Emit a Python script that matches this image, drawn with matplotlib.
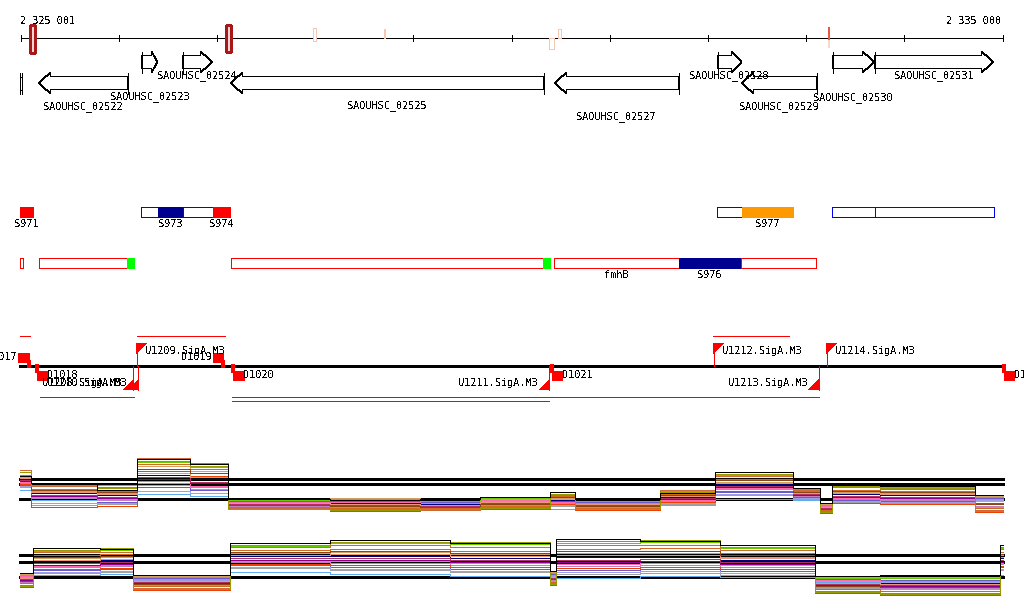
import matplotlib
matplotlib.use("Agg")
import matplotlib.pyplot as plt
from matplotlib.patches import Polygon, Rectangle

plt.rcParams["text.antialiased"] = False
plt.rcParams["lines.antialiased"] = False
plt.rcParams["patch.antialiased"] = False
plt.rcParams["font.family"] = "DejaVu Sans Mono"

# ---------------------------------------------------------------- data
WIN_START = 2325001
WIN_END = 2335000
TICK_POS = [2325001, 2326000, 2327000, 2328000, 2329000, 2330000,
            2331000, 2332000, 2333000, 2334000, 2335000]

# marks on the coordinate ruler
MARK_START = [2325093, 2327092, 2327978, 2328700, 2330384, 2330474, 2333221]
MARK_END = [2325150, 2327143, 2328008, 2328715, 2330428, 2330504, 2333241]
MARK_KIND = ["strong", "strong", "weak", "weak", "weak", "weak", "peak"]

# annotated genes
GENE_NAMES = ["", "SAOUHSC_02522", "SAOUHSC_02523", "SAOUHSC_02524",
              "SAOUHSC_02525", "SAOUHSC_02527", "SAOUHSC_02528",
              "SAOUHSC_02529", "SAOUHSC_02530", "SAOUHSC_02531"]
GENE_START = [2324994, 2325187, 2326229, 2326644, 2327142, 2330432,
              2332094, 2332341, 2333266, 2333693]
GENE_END = [2325014, 2326091, 2326399, 2326959, 2330320, 2331697,
            2332341, 2333107, 2333693, 2334905]
GENE_STRAND = ["-", "-", "+", "+", "-", "-", "+", "-", "+", "+"]

# segment tracks (upper: + strand, lower: - strand)
SEG1_START = [2324994, 2326229, 2326399, 2326651, 2326962,
              2332094, 2332343, 2333266, 2333700]
SEG1_END = [2325126, 2326399, 2326651, 2326962, 2327132,
            2332343, 2332865, 2333700, 2334909]
SEG1_KIND = ["srnaA", "utr", "srnaB", "utr", "srnaA",
             "utr", "srnaC", "utr", "utr"]
SEG1_LABEL = ["S971", "", "S973", "", "S974", "", "S977", "", ""]

SEG2_START = [2324994, 2325187, 2326087, 2327146, 2330320,
              2330435, 2331701, 2332336]
SEG2_END = [2325021, 2326087, 2326155, 2330320, 2330388,
            2331701, 2332336, 2333102]
SEG2_KIND = ["mrna", "mrna", "term", "mrna", "term",
             "mrna", "srnaB", "mrna"]
SEG2_LABEL = ["", "", "", "", "", "fmhB", "S976", ""]

# promoters / transcription start sites
PROM_NAMES = ["D1017", "D1018", "U1208.SigA.M3", "U1209.SigA.M3",
              "U1210.SigA.M3", "D1019", "D1020", "U1211.SigA.M3",
              "D1021", "U1212.SigA.M3", "U1213.SigA.M3",
              "U1214.SigA.M3", "D1022"]
PROM_POS = [2325082, 2325167, 2326148, 2326185, 2326199, 2327064,
            2327166, 2330384, 2330410, 2332054, 2333130, 2333208,
            2335009]
PROM_STRAND = ["+", "-", "-", "+", "-", "+", "-", "-", "-", "+", "-",
               "+", "-"]

# transcript spans
TX_START = [2324994, 2326185, 2332051, 2325198, 2327153, 2327153]
TX_END = [2325096, 2327081, 2332822, 2326155, 2333130, 2330384]
TX_STRAND = ["+", "+", "+", "-", "-", "-"]

# expression profiles (log2 signal), one row per condition
SERIES_COLORS = ["#000000", "#999900", "#cd6839", "#66cc00", "#8b4513",
                 "#e9967a", "#b03060", "#8b008b", "#000080", "#ff69b4",
                 "#ee4000", "#9f9fdf", "#c080c0", "#d2a060", "#d2691e",
                 "#6a5acd", "#a0a0a0", "#5cacee"]

EXPR1_EDGES = [2324994, 2325106, 2325778, 2326185, 2326726, 2327112,
               2328150, 2329067, 2329678, 2330391, 2330645, 2331511,
               2332071, 2332865, 2333140, 2333262, 2333751, 2334718,
               2335003]
EXPR1_LEVELS = [
    [10.3, 9.6, 8.9, 12.0, 11.5, 8.0, 7.9, 8.0, 8.2, 8.7, 8.0, 8.6, 10.7, 9.1, 7.6, 9.5, 9.3, 8.4],
    [10.7, 9.4, 9.1, 11.8, 11.3, 7.0, 6.9, 7.0, 7.1, 8.5, 7.0, 8.7, 10.5, 9.0, 6.7, 9.3, 9.1, 6.8],
    [10.9, 9.3, 9.2, 12.1, 11.6, 7.1, 7.0, 6.9, 7.2, 8.4, 7.0, 8.9, 10.3, 8.9, 6.8, 9.2, 9.0, 6.9],
    [10.7, 9.4, 9.4, 11.7, 11.2, 7.9, 8.0, 7.8, 8.1, 8.5, 7.8, 8.8, 10.4, 9.0, 7.4, 9.3, 9.2, 8.2],
    [10.3, 8.9, 8.7, 11.0, 10.6, 7.4, 7.3, 7.2, 7.5, 8.2, 7.3, 8.4, 9.9, 8.7, 7.0, 8.8, 8.7, 7.5],
    [10.1, 8.7, 8.5, 10.6, 10.2, 7.6, 7.5, 7.4, 7.7, 8.0, 7.5, 8.3, 9.6, 8.6, 7.2, 8.6, 8.5, 7.8],
    [9.9, 8.4, 8.2, 10.2, 9.7, 7.5, 7.4, 7.3, 7.6, 7.8, 7.4, 8.1, 9.3, 8.5, 7.1, 8.3, 8.2, 7.6],
    [9.8, 8.3, 8.1, 10.0, 9.6, 7.4, 7.3, 7.2, 7.5, 7.8, 7.3, 8.0, 9.2, 8.4, 7.0, 8.2, 8.1, 7.5],
    [10.0, 8.6, 8.4, 10.4, 10.0, 7.6, 7.6, 7.5, 7.7, 7.9, 7.5, 8.2, 9.5, 8.6, 7.2, 8.5, 8.4, 7.8],
    [9.7, 8.2, 8.0, 9.8, 9.3, 7.7, 7.7, 7.6, 7.9, 7.7, 7.6, 7.9, 9.1, 8.4, 7.3, 8.1, 8.0, 8.0],
    [9.5, 7.2, 7.3, 10.8, 10.3, 7.0, 6.8, 6.9, 7.0, 7.5, 6.9, 7.7, 8.8, 8.2, 6.6, 7.6, 7.5, 6.7],
    [9.3, 7.6, 7.6, 8.8, 8.6, 7.7, 7.6, 7.6, 7.8, 7.4, 7.6, 7.6, 8.5, 8.1, 7.3, 7.8, 7.7, 7.9],
    [9.6, 8.1, 7.9, 9.6, 9.2, 7.3, 7.2, 7.2, 7.4, 7.6, 7.2, 7.8, 9.0, 8.3, 7.0, 8.0, 7.9, 7.3],
    [10.2, 8.8, 8.6, 11.3, 10.8, 7.9, 8.1, 7.8, 8.0, 8.1, 7.8, 8.4, 9.7, 8.7, 7.5, 8.7, 8.6, 8.3],
    [10.4, 9.0, 8.8, 11.5, 11.0, 7.2, 7.1, 7.1, 7.3, 8.3, 7.1, 8.5, 10.0, 8.8, 6.9, 8.9, 8.8, 7.1],
    [9.4, 7.6, 7.7, 9.2, 8.9, 7.8, 7.8, 7.7, 7.9, 7.4, 7.7, 7.7, 8.7, 8.1, 7.4, 7.9, 7.8, 8.1],
    [9.2, 7.4, 7.5, 9.4, 9.0, 7.3, 7.2, 7.1, 7.3, 7.3, 7.2, 7.5, 8.4, 8.0, 6.9, 7.7, 7.6, 7.2],
    [8.9, 7.9, 7.9, 8.5, 8.3, 7.6, 7.7, 7.5, 7.8, 7.0, 7.5, 7.4, 8.0, 7.9, 7.2, 8.0, 7.9, 7.9],
]
EXPR1_REF = [8.0, 9.5, 10.05]

EXPR2_EDGES = [2324994, 2325126, 2325808, 2326145, 2327132, 2328150,
               2329373, 2330391, 2330452, 2331307, 2332122, 2333089,
               2333751, 2334973, 2335003]
EXPR2_LEVELS = [
    [8.4, 10.9, 10.8, 8.2, 11.4, 11.7, 11.4, 8.6, 11.8, 11.6, 11.2, 8.1, 8.2, 11.2],
    [7.1, 10.7, 10.9, 6.8, 11.2, 11.5, 11.5, 7.3, 11.6, 11.7, 11.0, 6.5, 6.3, 11.0],
    [7.2, 10.5, 10.5, 6.9, 11.0, 11.2, 11.0, 7.4, 11.2, 11.2, 10.7, 6.6, 6.4, 10.8],
    [8.2, 10.6, 10.7, 8.0, 11.1, 11.4, 11.3, 8.4, 11.4, 11.5, 10.9, 7.9, 7.9, 10.9],
    [7.6, 10.0, 10.1, 7.3, 10.5, 10.6, 10.4, 7.8, 10.6, 10.6, 10.2, 7.1, 7.0, 10.3],
    [7.9, 9.7, 9.8, 7.6, 10.2, 10.3, 10.1, 8.0, 10.2, 10.2, 9.9, 7.4, 7.3, 10.0],
    [7.8, 9.4, 9.5, 7.5, 9.9, 9.9, 9.7, 7.9, 9.7, 9.8, 9.5, 7.3, 7.2, 9.7],
    [7.7, 9.2, 9.3, 7.4, 9.7, 9.7, 9.5, 7.8, 9.5, 9.6, 9.3, 7.2, 7.1, 9.5],
    [7.8, 9.6, 9.7, 7.6, 10.1, 10.1, 9.9, 8.0, 10.0, 10.0, 9.7, 7.4, 7.4, 9.9],
    [8.1, 9.1, 9.2, 7.8, 9.6, 9.6, 9.4, 8.2, 9.3, 9.4, 9.2, 7.7, 7.6, 9.4],
    [7.0, 8.8, 8.9, 6.7, 9.3, 9.2, 9.0, 7.2, 8.9, 9.0, 8.8, 6.4, 6.2, 9.1],
    [8.0, 8.5, 8.6, 7.7, 9.0, 8.8, 8.6, 8.1, 8.5, 8.6, 8.4, 7.6, 7.5, 8.8],
    [7.5, 9.0, 9.1, 7.2, 9.5, 9.4, 9.2, 7.7, 9.1, 9.2, 9.0, 7.0, 6.9, 9.3],
    [8.3, 9.9, 10.0, 8.1, 10.4, 10.5, 10.3, 8.5, 10.4, 10.4, 10.0, 8.0, 8.0, 10.2],
    [7.4, 10.2, 10.3, 7.1, 10.7, 10.8, 10.6, 7.5, 10.8, 10.9, 10.4, 6.8, 6.6, 10.5],
    [8.1, 8.7, 8.8, 7.9, 9.2, 9.0, 8.8, 8.3, 8.7, 8.8, 8.6, 7.8, 7.7, 9.0],
    [7.4, 8.4, 8.5, 7.1, 8.9, 8.7, 8.5, 7.6, 8.3, 8.4, 8.2, 6.9, 6.8, 8.7],
    [7.9, 8.2, 8.3, 7.6, 8.5, 8.3, 8.1, 8.1, 7.9, 8.1, 8.0, 7.5, 7.4, 8.2],
]
EXPR2_REF = [8.0, 9.5, 10.2]

# ---------------------------------------------------------------- layout
W_PX, H_PX = 1024, 611
BP_PER_PX = 10.183
X_LEFT = WIN_START - 20.7 * BP_PER_PX
X_RIGHT = X_LEFT + W_PX * BP_PER_PX
MONO = dict(family="DejaVu Sans Mono", fontsize=7.4, color="black")
THIN = 0.5

GENE_LABEL_Y = [None, 106.7, 97.0, 76.0, 106.0, 117.0, 76.0, 106.7, 97.7, 76.0]
MARK_TOP = [25, 25, 28, 29, 38, 29, 27]
MARK_BOT = [53, 52, 41, 38, 49, 38, 48]
TX_Y = {"+": [335.7, 335.7, 335.7], "-": [397.0, 397.0, 400.7]}

fig = plt.figure(figsize=(W_PX / 100, H_PX / 100), dpi=100)
ax = fig.add_axes([0, 0, 1, 1])
ax.set_xlim(X_LEFT, X_RIGHT)
ax.set_ylim(H_PX, 0)
ax.axis("off")


def px(n):
    return n * BP_PER_PX


def sx(bp):
    # put a genome position on the nearest pixel centre (crisp outlines)
    k = round((bp - X_LEFT) / BP_PER_PX - 0.5)
    return X_LEFT + (k + 0.5) * BP_PER_PX


def sy(y):
    return int(y) + 0.5


# ruler
ax.plot([WIN_START, WIN_END], [38.3, 38.3], color="black", lw=THIN)
for t in TICK_POS:
    ax.plot([t, t], [35.3, 40.7], color="black", lw=THIN)
ax.text(WIN_START - px(0.7), 20.7, "2 325 001", ha="left", va="center", **MONO)
ax.text(WIN_END - px(1.7), 20.7, "2 335 000", ha="right", va="center", **MONO)

for s, e, k, yt, yb in zip(MARK_START, MARK_END, MARK_KIND, MARK_TOP, MARK_BOT):
    if k == "strong":
        ax.add_patch(Rectangle((s, yt), e - s, yb - yt, fc="#f4d4d4",
                               ec="#a81818", lw=1.0, zorder=3))
    elif k == "weak":
        ax.add_patch(Rectangle((s, yt), e - s, yb - yt, fc="white",
                               ec="#f5c8b4", lw=THIN, zorder=3))
    else:
        ax.add_patch(Rectangle((s, yt), e - s, 13, fc="#e85a40",
                               ec="none", zorder=3))
        ax.add_patch(Rectangle((s, yt + 13), e - s, yb - yt - 13,
                               fc="#f8d8cc", ec="none", zorder=3))

# genes
for name, s, e, strand, ly in zip(GENE_NAMES, GENE_START, GENE_END,
                                  GENE_STRAND, GENE_LABEL_Y):
    if strand == "+":
        top, bot, btop, bbot = sy(51), sy(72), sy(55), sy(68)
    else:
        top, bot, btop, bbot = sy(72), sy(93), sy(76), sy(89)
    mid = (top + bot) / 2
    h = min(px(12), 0.4 * (e - s))
    a, b = sx(s), sx(e)
    if strand == "+":
        hb = sx(e - h)
        pts = [(a, btop), (hb, btop), (hb, top), (b, mid),
               (hb, bot), (hb, bbot), (a, bbot)]
        xv = a
    else:
        hb = sx(s + h)
        pts = [(b, btop), (hb, btop), (hb, top), (a, mid),
               (hb, bot), (hb, bbot), (b, bbot)]
        xv = b
    ax.add_patch(Polygon(pts, closed=True, fc="white", ec="black", lw=THIN))
    ax.plot([xv, xv], [top, bot], color="black", lw=THIN)
    if name:
        ax.text((s + e) / 2, ly, name, ha="center", va="center", **MONO)

# segment tracks
SEG_STYLE = {
    "utr": ("white", "#0000ff"),
    "mrna": ("white", "#ff0000"),
    "srnaA": ("#ff0000", "#ff0000"),
    "srnaB": ("#000090", "#000090"),
    "srnaC": ("#ff9900", "#ff9900"),
    "term": ("#00ff00", "#00ff00"),
}
for starts, ends, kinds, labels, y0, ly in [
        (SEG1_START, SEG1_END, SEG1_KIND, SEG1_LABEL, 207.3, 224.0),
        (SEG2_START, SEG2_END, SEG2_KIND, SEG2_LABEL, 258.3, 275.0)]:
    for s, e, k, lab in zip(starts, ends, kinds, labels):
        fc, ec = SEG_STYLE[k]
        ax.add_patch(Rectangle((s, y0), e - s, 10, fc=fc, ec=ec, lw=0.7))
        if lab:
            ax.text((s + e) / 2, ly, lab, ha="center", va="center", **MONO)

# promoter track
ax.plot([2324994, 2335003], [366, 366], color="black", lw=0.8)
tx_count = {"+": 0, "-": 0}
for s, e, st in zip(TX_START, TX_END, TX_STRAND):
    y = TX_Y[st][tx_count[st]]
    tx_count[st] += 1
    ax.plot([s, e], [y, y], color="#ff0000", lw=THIN)

for name, x, st in zip(PROM_NAMES, PROM_POS, PROM_STRAND):
    if name.startswith("D"):
        if st == "+":
            ax.add_patch(Rectangle((x - px(10.5), 352.7), px(10.5), 9.3,
                                   fc="#ff0000", ec="#ff0000", lw=THIN))
            ax.plot([x, x], [361.7, 366], color="#ff0000", lw=1.6)
            ax.text(x - px(11.2), 357.3, name, ha="right", va="center", **MONO)
        else:
            ax.add_patch(Rectangle((x, 370.5), px(10.5), 9.0,
                                   fc="#ff0000", ec="#ff0000", lw=THIN))
            ax.plot([x, x], [366, 370.7], color="#ff0000", lw=1.6)
            ax.text(x + px(10.5), 374.8, name, ha="left", va="center", **MONO)
    else:
        xs = sx(x)
        if st == "+":
            ax.plot([xs, xs], [366, 343.5], color="#ff0000", lw=THIN)
            ax.add_patch(Polygon([(xs, 343.5), (xs + px(10), 343.5), (xs, 353.5)],
                                 closed=True, fc="#ff0000", ec="none"))
            ax.text(x + px(8.5), 350.9, name, ha="left", va="center", **MONO)
        else:
            ax.plot([xs, xs], [366, 389.5], color="#ff0000", lw=THIN)
            ax.add_patch(Polygon([(xs, 389.5), (xs - px(10), 389.5), (xs, 379.5)],
                                 closed=True, fc="#ff0000", ec="none"))
            ax.text(x - px(11.3), 382.9, name, ha="right", va="center", **MONO)


# expression tracks
def expr_axes(top_px, bottom_px, ref_px, ref_val):
    a = fig.add_axes([0, 1 - bottom_px / H_PX, 1, (bottom_px - top_px) / H_PX])
    a.set_xlim(X_LEFT, X_RIGHT)
    lo = ref_val - (bottom_px - ref_px) / 10.0
    hi = ref_val + (ref_px - top_px) / 10.0
    a.set_ylim(lo, hi)
    a.axis("off")
    a.patch.set_alpha(0)
    return a


ax1 = expr_axes(440, 520, 499.3, 8.0)
ax2 = expr_axes(525, 605, 577.3, 8.0)
for a, edges, levels, refs in [(ax1, EXPR1_EDGES, EXPR1_LEVELS, EXPR1_REF),
                               (ax2, EXPR2_EDGES, EXPR2_LEVELS, EXPR2_REF)]:
    for r in refs:
        a.plot([2324994, 2335003], [r, r], color="black", lw=0.8, zorder=1)
    for vals, col in reversed(list(zip(levels, SERIES_COLORS))):
        a.stairs(vals, edges, baseline=None, color=col, lw=THIN, zorder=2)

fig.savefig("out.png", dpi=100)
